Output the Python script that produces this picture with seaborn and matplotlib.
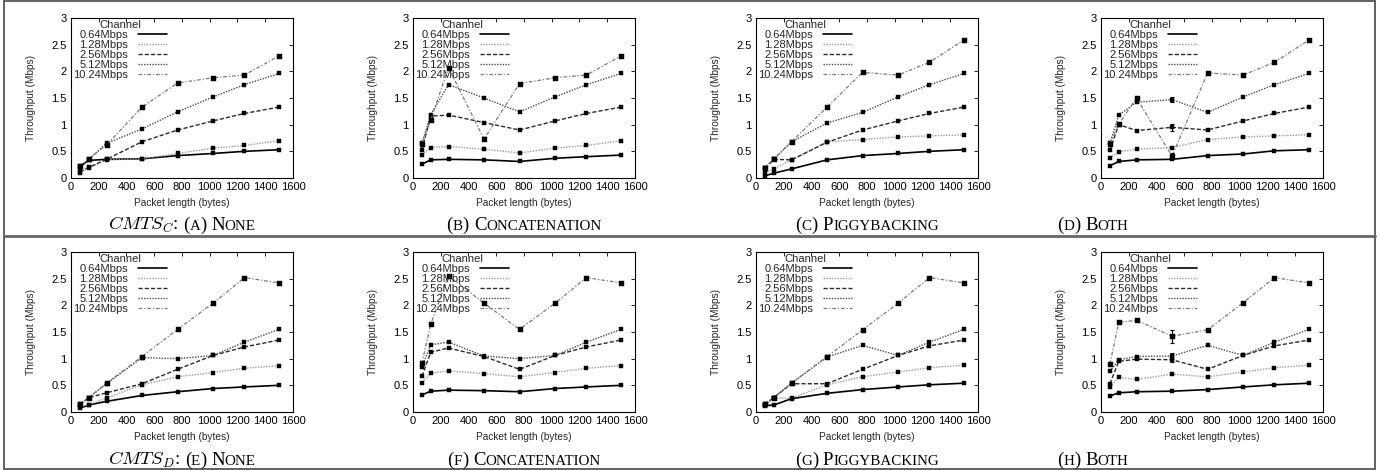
import matplotlib
matplotlib.use("Agg")
import matplotlib.pyplot as plt
import seaborn as sns
import pandas as pd
from matplotlib.lines import Line2D

# ---------------- data ----------------
packet_len = [64, 128, 256, 512, 768, 1024, 1250, 1500]
channels = ["0.64Mbps", "1.28Mbps", "2.56Mbps", "5.12Mbps", "10.24Mbps"]

# CMTS_C
c_none = [
    [0.22, 0.33, 0.35, 0.36, 0.42, 0.46, 0.50, 0.53],
    [0.10, 0.19, 0.34, 0.36, 0.46, 0.56, 0.61, 0.70],
    [0.12, 0.20, 0.35, 0.68, 0.90, 1.07, 1.21, 1.33],
    [0.18, 0.35, 0.65, 0.92, 1.24, 1.52, 1.75, 1.96],
    [0.22, 0.36, 0.62, 1.33, 1.78, 1.88, 1.93, 2.29],
]
c_concat = [
    [0.26, 0.34, 0.35, 0.34, 0.31, 0.37, 0.40, 0.43],
    [0.44, 0.57, 0.59, 0.54, 0.47, 0.56, 0.61, 0.70],
    [0.53, 1.16, 1.18, 1.04, 0.90, 1.07, 1.21, 1.33],
    [0.65, 1.19, 1.75, 1.50, 1.24, 1.52, 1.75, 1.96],
    [0.63, 1.09, 2.07, 0.73, 1.77, 1.88, 1.93, 2.29],
]
c_piggy = [
    [0.04, 0.09, 0.17, 0.34, 0.42, 0.46, 0.50, 0.53],
    [0.09, 0.17, 0.34, 0.68, 0.72, 0.77, 0.79, 0.81],
    [0.18, 0.35, 0.34, 0.67, 0.90, 1.07, 1.21, 1.33],
    [0.19, 0.35, 0.68, 1.03, 1.23, 1.52, 1.75, 1.96],
    [0.19, 0.36, 0.68, 1.33, 1.98, 1.93, 2.17, 2.59],
]
c_both = [
    [0.23, 0.31, 0.34, 0.35, 0.42, 0.45, 0.51, 0.53],
    [0.37, 0.49, 0.54, 0.57, 0.72, 0.77, 0.79, 0.81],
    [0.52, 1.00, 0.89, 0.95, 0.90, 1.07, 1.21, 1.33],
    [0.65, 1.18, 1.42, 1.47, 1.23, 1.52, 1.75, 1.96],
    [0.64, 1.01, 1.50, 0.41, 1.97, 1.93, 2.17, 2.59],
]
# CMTS_D
d_none = [
    [0.07, 0.13, 0.20, 0.31, 0.38, 0.44, 0.47, 0.50],
    [0.09, 0.14, 0.26, 0.51, 0.66, 0.74, 0.82, 0.87],
    [0.13, 0.27, 0.36, 0.53, 0.80, 1.06, 1.22, 1.35],
    [0.15, 0.27, 0.53, 1.02, 1.00, 1.06, 1.31, 1.55],
    [0.15, 0.27, 0.54, 1.04, 1.55, 2.04, 2.52, 2.42],
]
d_concat = [
    [0.32, 0.39, 0.41, 0.40, 0.38, 0.44, 0.47, 0.50],
    [0.55, 0.73, 0.77, 0.72, 0.66, 0.74, 0.82, 0.87],
    [0.67, 1.12, 1.20, 1.04, 0.80, 1.06, 1.22, 1.35],
    [0.85, 1.26, 1.31, 1.05, 1.00, 1.06, 1.31, 1.55],
    [0.91, 1.65, 2.55, 2.04, 1.55, 2.04, 2.52, 2.42],
]
d_piggy = [
    [0.12, 0.13, 0.25, 0.35, 0.42, 0.47, 0.51, 0.54],
    [0.13, 0.26, 0.26, 0.51, 0.66, 0.75, 0.83, 0.88],
    [0.14, 0.27, 0.53, 0.53, 0.80, 1.06, 1.24, 1.35],
    [0.15, 0.27, 0.54, 1.03, 1.25, 1.06, 1.31, 1.55],
    [0.15, 0.27, 0.54, 1.04, 1.54, 2.04, 2.52, 2.42],
]
d_both = [
    [0.30, 0.36, 0.38, 0.39, 0.42, 0.47, 0.51, 0.54],
    [0.47, 0.65, 0.61, 0.71, 0.66, 0.75, 0.83, 0.88],
    [0.53, 0.95, 0.99, 0.98, 0.80, 1.06, 1.24, 1.35],
    [0.76, 0.98, 1.04, 1.05, 1.25, 1.06, 1.31, 1.55],
    [0.90, 1.68, 1.72, 1.42, 1.54, 2.05, 2.52, 2.42],
]
# error bars (at 512 bytes) for the "Both" panels: per channel
c_both_err = [0.0, 0.0, 0.06, 0.04, 0.05]
d_both_err = [0.0, 0.0, 0.05, 0.05, 0.12]

panels = [c_none, c_concat, c_piggy, c_both, d_none, d_concat, d_piggy, d_both]
panel_err = [None, None, None, c_both_err, None, None, None, d_both_err]

# caption pieces: (text, size-kind)
captions = [
    [("$CMTS_C$:", "B"), (" ", "B"), ("(", "B"), ("A", "S"), (")", "B"), (" ", "B"), ("N", "B"), ("ONE", "S")],
    [("(", "B"), ("B", "S"), (")", "B"), (" ", "B"), ("C", "B"), ("ONCATENATION", "S")],
    [("(", "B"), ("C", "S"), (")", "B"), (" ", "B"), ("P", "B"), ("IGGYBACKING", "S")],
    [("(", "B"), ("D", "S"), (")", "B"), (" ", "B"), ("B", "B"), ("OTH", "S")],
    [("$CMTS_D$:", "B"), (" ", "B"), ("(", "B"), ("E", "S"), (")", "B"), (" ", "B"), ("N", "B"), ("ONE", "S")],
    [("(", "B"), ("F", "S"), (")", "B"), (" ", "B"), ("C", "B"), ("ONCATENATION", "S")],
    [("(", "B"), ("G", "S"), (")", "B"), (" ", "B"), ("P", "B"), ("IGGYBACKING", "S")],
    [("(", "B"), ("H", "S"), (")", "B"), (" ", "B"), ("B", "B"), ("OTH", "S")],
]

# ---------------- style ----------------
sns.set_theme(style="white")
plt.rcParams["font.family"] = ["Liberation Sans", "DejaVu Sans"]
plt.rcParams["mathtext.fontset"] = "cm"

styles = [
    dict(color="#000000", linestyle="-", lw=1.2, ms=2.2),
    dict(color="#9a9a9a", linestyle=(0, (1, 1)), lw=1.0, ms=2.6),
    dict(color="#2a2a2a", linestyle=(0, (3, 1.5)), lw=1.0, ms=3.0),
    dict(color="#4a4a4a", linestyle=(0, (1, 1)), lw=1.0, ms=3.4),
    dict(color="#7a7a7a", linestyle=(0, (3, 1.5, 1, 1.5)), lw=0.9, ms=3.6),
]

W, H = 1380, 470
fig = plt.figure(figsize=(W / 100, H / 100), dpi=100)

lefts_px = [71, 413, 756, 1101]
row_top_px = [18, 252]
ax_w_px, ax_h_px = 222, 160
FS = 8.0

axes = []
for i, data in enumerate(panels):
    r, c = divmod(i, 4)
    l = lefts_px[c] / W
    b = 1 - (row_top_px[r] + ax_h_px) / H
    ax = fig.add_axes([l, b, ax_w_px / W, ax_h_px / H])
    axes.append(ax)
    rows = []
    for ch, vals in zip(channels, data):
        for x, y in zip(packet_len, vals):
            rows.append({"len": x, "tput": y, "channel": ch})
    df = pd.DataFrame(rows)
    for k, ch in enumerate(channels):
        st = styles[k]
        sub = df[df["channel"] == ch]
        sns.lineplot(data=sub, x="len", y="tput", ax=ax, color=st["color"],
                     linestyle=st["linestyle"], lw=st["lw"], marker="s",
                     markersize=st["ms"], markerfacecolor="black",
                     markeredgecolor="black", markeredgewidth=0.3,
                     errorbar=None, legend=False)
        err = panel_err[i]
        if err is not None and err[k] > 0:
            j = packet_len.index(512)
            ax.errorbar([packet_len[j]], [data[k][j]], yerr=[err[k]], fmt="none",
                        ecolor="black", elinewidth=0.8, capsize=1.5, capthick=0.8)
    ax.set_xlim(0, 1600)
    ax.set_ylim(0, 3)
    ax.set_xticks(range(0, 1601, 200))
    ax.set_yticks([0, 0.5, 1, 1.5, 2, 2.5, 3])
    ax.set_yticklabels(["0", "0.5", "1", "1.5", "2", "2.5", "3"])
    ax.tick_params(direction="in", length=3, width=0.6, labelsize=FS,
                   top=True, right=True, pad=3, colors="black")
    for sp in ax.spines.values():
        sp.set_color("black")
        sp.set_linewidth(0.8)
    ax.set_xlabel("Packet length (bytes)", fontsize=7.3, labelpad=4)
    ax.set_ylabel("Throughput (Mbps)", fontsize=7.3, labelpad=11)
    handles = [Line2D([], [], color=s["color"], linestyle=s["linestyle"], lw=s["lw"])
               for s in styles]
    leg = ax.legend(handles, channels, title="Channel", loc="upper left",
                    bbox_to_anchor=(0.01, 0.99), frameon=False, markerfirst=False,
                    fontsize=FS, title_fontsize=FS, handlelength=2.6,
                    handletextpad=0.9, labelspacing=0.0, borderpad=0,
                    borderaxespad=0)

# ---------------- captions ----------------
BIG, SMALL = 13.5, 10.8
fig.canvas.draw()
renderer = fig.canvas.get_renderer()
baselines_px = [230, 465]
for i, pieces in enumerate(captions):
    r, c = divmod(i, 4)
    texts, widths = [], []
    for s, kind in pieces:
        size = BIG if kind == "B" else SMALL
        if s == " ":
            texts.append(None)
            widths.append(0.25 * size * 100 / 72)
            continue
        t = fig.text(0, 1 - baselines_px[r] / H, s, fontsize=size,
                     family=["Liberation Serif", "DejaVu Serif"], va="baseline",
                     ha="left", color="black")
        bb = t.get_window_extent(renderer)
        texts.append(t)
        widths.append(bb.width)
    total = sum(widths)
    if c == 3:
        x0 = 1057
    else:
        x0 = lefts_px[c] + ax_w_px / 2 - total / 2
    x = x0
    for t, w in zip(texts, widths):
        if t is not None:
            t.set_x(x / W)
        x += w

# ---------------- borders ----------------
def fline(x0, y0, x1, y1, lw, col):
    fig.add_artist(Line2D([x0 / W, x1 / W], [1 - y0 / H, 1 - y1 / H],
                          transform=fig.transFigure, lw=lw, color=col))

fline(4, 1.2, 1375, 1.2, 1.3, "#555555")
fline(4, 468.8, 1375, 468.8, 1.3, "#555555")
fline(4, 1, 4, 469, 1.3, "#555555")
fline(1375, 1, 1375, 469, 1.3, "#555555")
fline(4, 236, 1375, 236, 2.0, "#666666")

fig.savefig("out.png", dpi=100)
